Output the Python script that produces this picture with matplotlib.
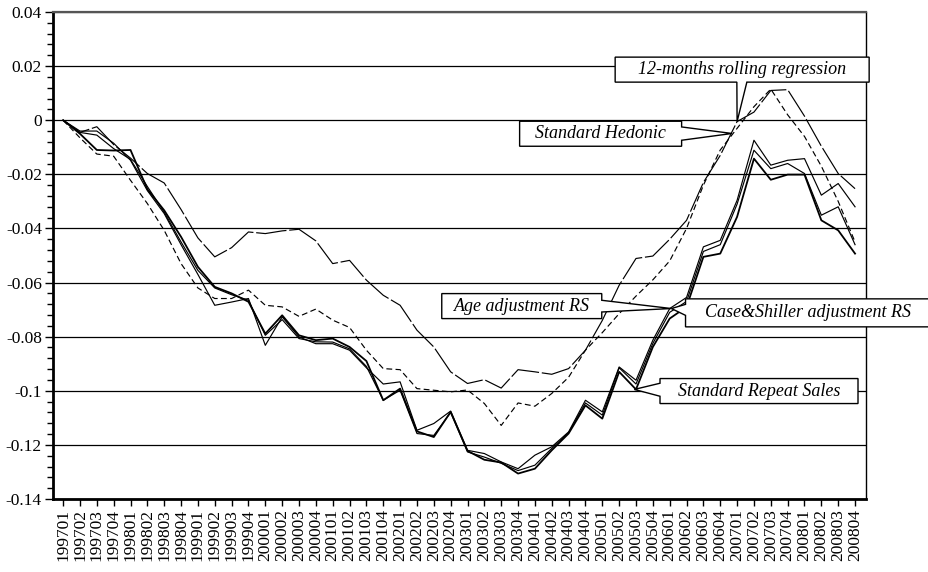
import matplotlib
matplotlib.use("Agg")
import matplotlib.pyplot as plt
from matplotlib.patches import Polygon
from matplotlib.transforms import IdentityTransform
from matplotlib.ticker import FixedLocator, FixedFormatter, MultipleLocator
import numpy as np

plt.rcParams['lines.scale_dashes'] = False

quarters = ["199701", "199702", "199703", "199704", "199801", "199802", "199803", "199804",
            "199901", "199902", "199903", "199904", "200001", "200002", "200003", "200004",
            "200101", "200102", "200103", "200104", "200201", "200202", "200203", "200204",
            "200301", "200302", "200303", "200304", "200401", "200402", "200403", "200404",
            "200501", "200502", "200503", "200504", "200601", "200602", "200603", "200604",
            "200701", "200702", "200703", "200704", "200801", "200802", "200803", "200804"]

rolling = [0, -0.0045, -0.0024, -0.009, -0.014, -0.0197, -0.0232, -0.033, -0.0435, -0.0505,
           -0.0471, -0.0413, -0.0419, -0.0409, -0.0403, -0.0446, -0.053, -0.0518, -0.0591, -0.0647,
           -0.0684, -0.0776, -0.0838, -0.093, -0.0973, -0.0959, -0.099, -0.0922, -0.093, -0.0939,
           -0.0918, -0.085, -0.074, -0.061, -0.0511, -0.0502, -0.044, -0.037, -0.023, -0.013,
           -0.0005, 0.003, 0.011, 0.0113, 0.0015, -0.0096, -0.0197, -0.0253]

hedonic = [0, -0.0065, -0.0125, -0.0133, -0.0222, -0.0308, -0.0407, -0.053, -0.062, -0.0659,
           -0.0659, -0.0628, -0.0684, -0.069, -0.0725, -0.0698, -0.0739, -0.0766, -0.085, -0.0918,
           -0.0922, -0.0992, -0.0998, -0.1004, -0.0997, -0.1047, -0.1128, -0.1045, -0.1057, -0.101,
           -0.095, -0.085, -0.0785, -0.0715, -0.065, -0.059, -0.052, -0.040, -0.024, -0.011,
           -0.003, 0.005, 0.0115, 0.002, -0.006, -0.017, -0.030, -0.045]

srs = [0, -0.005, -0.011, -0.0112, -0.011, -0.0255, -0.0333, -0.0431, -0.0542, -0.0616,
       -0.064, -0.0671, -0.0789, -0.0721, -0.0795, -0.0813, -0.0807, -0.0838, -0.089, -0.1035,
       -0.0992, -0.115, -0.1171, -0.1078, -0.1222, -0.1255, -0.1265, -0.1306, -0.1288, -0.122,
       -0.1158, -0.1054, -0.1103, -0.093, -0.0995, -0.0838, -0.0733, -0.069, -0.0505, -0.0493,
       -0.0357, -0.0142, -0.022, -0.0201, -0.0201, -0.037, -0.0407, -0.0493]

age_rs = [0, -0.0045, -0.0055, -0.0105, -0.0145, -0.0245, -0.034, -0.045, -0.0555, -0.062,
          -0.0645, -0.0665, -0.0795, -0.0737, -0.0807, -0.0819, -0.082, -0.0845, -0.091, -0.1035,
          -0.0998, -0.1158, -0.1165, -0.108, -0.1226, -0.1245, -0.1268, -0.1295, -0.1275, -0.1213,
          -0.1155, -0.1045, -0.109, -0.0915, -0.0975, -0.0825, -0.071, -0.067, -0.0485, -0.046,
          -0.031, -0.0111, -0.0179, -0.016, -0.0197, -0.0351, -0.032, -0.046]

cs_rs = [0, -0.004, -0.004, -0.0085, -0.0148, -0.026, -0.0345, -0.046, -0.057, -0.0684,
         -0.0672, -0.0659, -0.0832, -0.0727, -0.0801, -0.0826, -0.0826, -0.085, -0.0915, -0.0975,
         -0.0967, -0.1146, -0.1121, -0.1075, -0.122, -0.1232, -0.1263, -0.1288, -0.1238, -0.1207,
         -0.1152, -0.1035, -0.1078, -0.0912, -0.0961, -0.0813, -0.0696, -0.0655, -0.0468, -0.0444,
         -0.0296, -0.0074, -0.0166, -0.0148, -0.0142, -0.0277, -0.0234, -0.032]

y_ticks = [0.04, 0.02, 0.0, -0.02, -0.04, -0.06, -0.08, -0.10, -0.12, -0.14]
y_tick_labels = ["0.04", "0.02", "0", "-0.02", "-0.04", "-0.06", "-0.08", "-0.1", "-0.12", "-0.14"]

SERIF = "Liberation Serif"

fig = plt.figure(figsize=(9.29, 5.72), dpi=100)
W, H = 929, 572
ax = fig.add_axes([53 / W, 1 - 499 / H, (866 - 53) / W, (499 - 12) / H])
x = np.arange(len(quarters))

for v in y_ticks:
    ax.axhline(v, color='black', lw=0.9, zorder=1)

ax.plot(x, rolling, color='black', lw=0.85, dashes=(22, 2), zorder=3)
ax.plot(x, hedonic, color='black', lw=0.85, dashes=(4.2, 2.4), zorder=3)
ax.plot(x, cs_rs, color='black', lw=0.85, zorder=3)
ax.plot(x, age_rs, color='black', lw=0.85, zorder=3)
ax.plot(x, srs, color='black', lw=1.3, zorder=3)

ax.set_xlim(-0.6, 47.65)
ax.set_ylim(-0.14, 0.04)
ax.yaxis.set_major_locator(FixedLocator(y_ticks))
ax.yaxis.set_major_formatter(FixedFormatter(y_tick_labels))
ax.yaxis.set_minor_locator(MultipleLocator(0.004))
ax.set_xticks(x)
ax.set_xticklabels(quarters, rotation=90)
ax.tick_params(axis='y', which='major', length=6, width=1, direction='out', labelsize=12.5, pad=2)
ax.tick_params(axis='y', which='minor', length=4, width=1, direction='out')
ax.tick_params(axis='x', which='major', length=5, width=1, direction='out', labelsize=12.5, pad=2)
for lab in ax.get_xticklabels() + ax.get_yticklabels():
    lab.set_fontfamily(SERIF)

ax.spines['left'].set_linewidth(2)
ax.spines['bottom'].set_linewidth(2)
ax.spines['top'].set_linewidth(1.6)
ax.spines['top'].set_color('#555555')
ax.spines['right'].set_linewidth(1)


def callout(text, center, w, h, side, legs, tip):
    cx, cy = ax.transData.transform(center)
    tx, ty = ax.transData.transform(tip)
    x0, x1 = cx - w / 2, cx + w / 2
    y0, y1 = cy - h / 2, cy + h / 2
    a, b = legs  # pixel offsets (image y-down / x-right) from edge centre
    if side == 'right':
        verts = [(x0, y1), (x1, y1), (x1, cy - a), (tx, ty), (x1, cy - b), (x1, y0), (x0, y0)]
    elif side == 'left':
        verts = [(x0, y1), (x1, y1), (x1, y0), (x0, y0), (x0, cy - b), (tx, ty), (x0, cy - a)]
    else:  # bottom
        verts = [(x0, y1), (x1, y1), (x1, y0), (cx + b, y0), (tx, ty), (cx + a, y0), (x0, y0)]
    fig.add_artist(Polygon(verts, closed=True, transform=IdentityTransform(),
                           facecolor='white', edgecolor='black', lw=1, zorder=5))
    fig.text(cx, cy, text, transform=IdentityTransform(), ha='center', va='center',
             fontsize=13, fontstyle='italic', family=SERIF, zorder=6)


callout("12-months rolling regression", (40.3, 0.0187), 254, 25, 'bottom', (-5.3, 4.7), (40, rolling[40]))
callout("Standard Hedonic", (31.9, -0.0050), 162, 25, 'right', (-6.8, 6.5), (39.7, -0.0049))
callout("Age adjustment RS", (27.22, -0.0687), 160, 25, 'right', (-5.8, 5.9), (36.1, cs_rs[36]))
callout("Case&Shiller adjustment RS", (44.18, -0.0712), 244, 28, 'left', (-8.5, 2.5), (36.1, cs_rs[36]))
callout("Standard Repeat Sales", (41.3, -0.1001), 198, 25, 'left', (-7.8, 5.2), (33.9, srs[34]))

fig.savefig("out.png", dpi=100)
